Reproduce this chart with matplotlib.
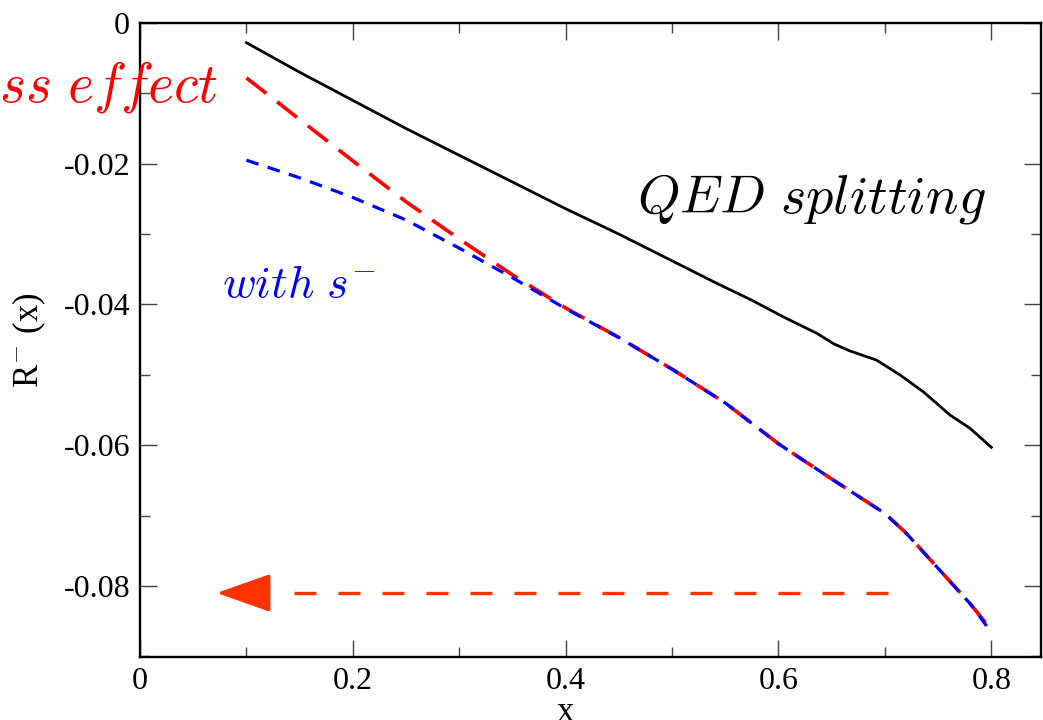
import numpy as np
import matplotlib
matplotlib.use('Agg')
import matplotlib.pyplot as plt

plt.rcParams.update({
    'font.family': 'Liberation Serif',
    'mathtext.fontset': 'cm',
    'figure.facecolor': 'white',
})

# -- data --
x_qed = [0.10, 0.15, 0.20, 0.25, 0.30, 0.35, 0.40, 0.45, 0.50, 0.542, 0.575,
         0.605, 0.636, 0.652, 0.667, 0.692, 0.714, 0.736, 0.752, 0.761,
         0.780, 0.80]
y_qed = [-0.0028, -0.0070, -0.0110, -0.0150, -0.0188, -0.0226, -0.0264,
         -0.0300, -0.0338, -0.0370, -0.0394, -0.0418, -0.0441, -0.0456,
         -0.0466, -0.0479, -0.0500, -0.0524, -0.0545, -0.0557, -0.0576,
         -0.0603]

x_mass = [0.10, 0.15, 0.20, 0.25, 0.30, 0.35, 0.40, 0.45, 0.50, 0.55, 0.60,
          0.65, 0.70, 0.72, 0.75, 0.78, 0.795]
y_mass = [-0.0078, -0.0137, -0.0196, -0.0254, -0.0307, -0.0358, -0.0405,
          -0.0447, -0.0492, -0.0540, -0.0598, -0.0648, -0.0697, -0.0725,
          -0.0775, -0.0825, -0.0853]

x_sm = [0.10, 0.15, 0.20, 0.25, 0.30, 0.35, 0.40, 0.45, 0.50, 0.55, 0.60,
        0.65, 0.70, 0.72, 0.75, 0.78, 0.80]
y_sm = [-0.0195, -0.0220, -0.0248, -0.0280, -0.0320, -0.0362, -0.0406,
        -0.0447, -0.0492, -0.0540, -0.0598, -0.0648, -0.0697, -0.0725,
        -0.0775, -0.0825, -0.0866]

arrow_y = -0.0810
arrow_x0, arrow_x1 = 0.703, 0.120   # dashed shaft end / arrow head base
arrow_tip = 0.072

fig = plt.figure(figsize=(10.43, 7.20), dpi=100)
ax = fig.add_axes([0.1342, 0.0875, 0.864, 0.8806])

ax.plot(x_qed, y_qed, color='black', lw=2.0)
ax.plot(x_mass, y_mass, color='#ff0000', lw=2.6, dashes=(7.0, 3.8))
ax.plot(x_sm, y_sm, color='#0000ff', lw=2.3, dashes=(4.0, 3.0))

# horizontal dashed arrow
ax.plot([arrow_x0, arrow_x1 + 0.022], [arrow_y, arrow_y], color='#ff3300',
        lw=2.4, dashes=(6.6, 6.6))
ax.annotate('', xy=(arrow_tip, arrow_y), xytext=(arrow_x1, arrow_y),
            arrowprops=dict(arrowstyle='-|>,head_length=3.4,head_width=1.2',
                            color='#ff3300', lw=2.4, shrinkA=0, shrinkB=0),
            annotation_clip=False)

ax.text(0.073, -0.0091, r'$mass\ effect$', color='#ff0000', fontsize=40,
        ha='right', va='center')
ax.text(0.467, -0.0269, r'$QED\ splitting$', color='black', fontsize=39,
        ha='left', va='baseline')
ax.text(0.077, -0.0390, r'$with\ s^{-}$', color='#0000ff', fontsize=33,
        ha='left', va='baseline')

ax.set_xlim(0, 0.8468)
ax.set_ylim(-0.0901, 0)
ax.set_xticks([0, 0.2, 0.4, 0.6, 0.8])
ax.set_xticklabels(['0', '0.2', '0.4', '0.6', '0.8'])
ax.set_xticks(np.arange(0.1, 0.85, 0.2), minor=True)
ax.set_yticks([0, -0.02, -0.04, -0.06, -0.08])
ax.set_yticklabels(['0', '-0.02', '-0.04', '-0.06', '-0.08'])
ax.set_yticks([-0.01, -0.03, -0.05, -0.07, -0.09], minor=True)

ax.tick_params(which='both', direction='in', top=True, right=True,
               labelsize=23, color='#444444', width=1.0, pad=7)
ax.tick_params(which='major', length=12)
ax.tick_params(which='minor', length=7)
for sp in ax.spines.values():
    sp.set_linewidth(1.7)

ax.set_ylabel(r'R$^{-}$ (x)', fontsize=25)
ax.yaxis.set_label_coords(-0.102, 0.5)
ax.set_xlabel('x', fontsize=25)
ax.xaxis.set_label_coords(0.4717, -0.062)

fig.savefig('out.png', dpi=100, facecolor='white')
